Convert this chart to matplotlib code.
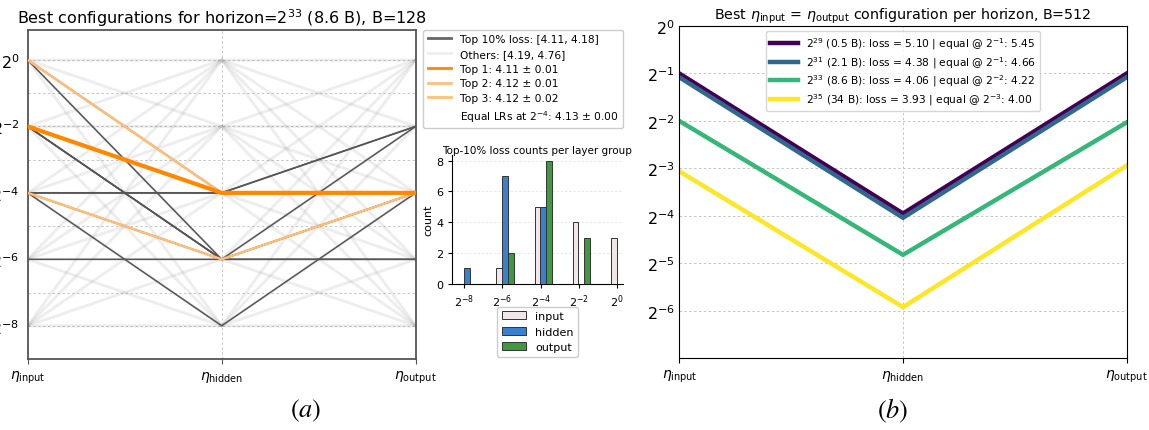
import numpy as np
import matplotlib
matplotlib.use('Agg')
import matplotlib.pyplot as plt
from matplotlib.lines import Line2D
from matplotlib.transforms import Bbox, TransformedBbox
from itertools import product

# ---------------- data ----------------
axis_labels = [r'$\eta_{\mathrm{input}}$', r'$\eta_{\mathrm{hidden}}$', r'$\eta_{\mathrm{output}}$']
lr_grid_exp = [0, -2, -4, -6, -8]          # log2 learning-rate sweep grid (per layer group)

# top-10% configs (log2 of input, hidden, output lr)
top10_configs = [
    (-2, -4, -4), (0, -4, -4), (-4, -6, -4), (-4, -4, -4), (0, -4, -2),
    (-4, -4, -2), (-2, -6, -2), (-2, -6, -4), (-2, -6, -6), (-4, -6, -6),
    (-4, -8, -4), (0, -6, -4), (-6, -6, -4),
]
top1_cfg = (-2, -4, -4)
top2_cfg = (0, -4, -4)
top3_cfg = (-4, -6, -4)

left_legend_labels = [
    'Top 10% loss: [4.11, 4.18]',
    'Others: [4.19, 4.76]',
    'Top 1: 4.11 ± 0.01',
    'Top 2: 4.12 ± 0.01',
    'Top 3: 4.12 ± 0.02',
    r'Equal LRs at $2^{-4}$: 4.13 ± 0.00',
]

# inset: counts per layer group in top-10%
bar_bins = [-8, -6, -4, -2, 0]
bar_tick_labels = [r'$2^{-8}$', r'$2^{-6}$', r'$2^{-4}$', r'$2^{-2}$', r'$2^{0}$']
count_input = [0, 1, 5, 4, 3]
count_hidden = [1, 7, 5, 0, 0]
count_output = [0, 2, 8, 3, 0]

# right panel: best eta_input = eta_output config per horizon (log2 lr)
right_labels = [
    r'$2^{29}$ (0.5 B): loss = 5.10 | equal @ $2^{-1}$: 5.45',
    r'$2^{31}$ (2.1 B): loss = 4.38 | equal @ $2^{-1}$: 4.66',
    r'$2^{33}$ (8.6 B): loss = 4.06 | equal @ $2^{-2}$: 4.22',
    r'$2^{35}$ (34 B): loss = 3.93 | equal @ $2^{-3}$: 4.00',
]
best_h29 = [-1.0, -3.95, -1.0]
best_h31 = [-1.08, -4.04, -1.08]
best_h33 = [-2.0, -4.82, -2.03]
best_h35 = [-3.06, -5.92, -2.94]
right_series = [best_h29, best_h31, best_h33, best_h35]
right_colors = ['#440154', '#31688e', '#35b779', '#fde725']

# ---------------- figure ----------------
W, H = 1149, 431
fig = plt.figure(figsize=(W / 100, H / 100), dpi=100)

def frac(x0, x1, ytop, ybot):
    return [x0 / W, 1 - ybot / H, (x1 - x0) / W, (ybot - ytop) / H]

grid_kw = dict(color='#c4c4c4', lw=0.7, ls=(0, (2.5, 2.5)))

# ----- left panel -----
axL = fig.add_axes(frac(27.7, 415.7, 30.7, 360))
xs = [0, 1, 2]
for cfg in product(lr_grid_exp, repeat=3):
    if cfg in top10_configs:
        continue
    axL.plot(xs, [2.0 ** v for v in cfg], color='#a0a0a0', alpha=0.035, lw=2.0, zorder=2)
for cfg in top10_configs:
    axL.plot(xs, [2.0 ** v for v in cfg], color='#555555', lw=1.1, zorder=3)
axL.plot(xs, [2.0 ** v for v in top3_cfg], color='#ffbd78', lw=1.8, zorder=4)
axL.plot(xs, [2.0 ** v for v in top2_cfg], color='#ffbd78', lw=1.8, zorder=4)
axL.plot(xs, [2.0 ** v for v in top1_cfg], color='#ff8800', lw=3.0, zorder=5)

axL.set_yscale('log', base=2)
axL.set_ylim(2.0 ** -9, 2.0 ** 0.91)
axL.set_xlim(0, 2)
yt = list(range(0, -9, -1))
axL.set_yticks([2.0 ** e for e in yt])
axL.set_yticklabels([(r'$2^{%d}$' % e) if e % 2 == 0 else '' for e in yt], fontsize=11.5)
axL.minorticks_off()
axL.set_xticks(xs)
axL.set_xticklabels(axis_labels, fontsize=10)
axL.tick_params(axis='y', length=0, pad=6)
axL.tick_params(axis='x', length=3.5, color='#555555')
axL.grid(True, **grid_kw)
axL.set_axisbelow(True)
for s in axL.spines.values():
    s.set_color('#555555')
    s.set_linewidth(1.3)
axL.set_title(r'Best configurations for horizon=$2^{33}$ (8.6 B), B=128', fontsize=11.5, pad=5)

handles = [
    Line2D([], [], color='#666666', lw=2),
    Line2D([], [], color='#eeeeee', lw=2),
    Line2D([], [], color='#ff8800', lw=2),
    Line2D([], [], color='#ffc07a', lw=2),
    Line2D([], [], color='#ffc07a', lw=2),
    Line2D([], [], color='none', lw=2),
]
axL.legend(handles, left_legend_labels, loc='upper left', bbox_to_anchor=(1.0 + 7.6 / 388, 1.0),
           borderaxespad=0, fontsize=7.7, handlelength=2.2, labelspacing=0.45,
           framealpha=1, edgecolor='#cccccc')

# ----- inset bar chart -----
axI = fig.add_axes(frac(452.3, 622.7, 155.5, 284.7))
bw = 0.3
xb = np.array(bar_bins, dtype=float)
axI.bar(xb - 0.17, count_input, width=bw, color='#f1e6e8', edgecolor='#333333', lw=0.7, label='input', zorder=3)
axI.bar(xb + 0.13, count_hidden, width=bw, color='#3a80d0', edgecolor='#333333', lw=0.7, label='hidden', zorder=3)
axI.bar(xb + 0.43, count_output, width=bw, color='#3f9a3f', edgecolor='#333333', lw=0.7, label='output', zorder=3)
axI.set_xlim(-8.63, 0.3)
axI.set_ylim(0, 8.4)
axI.set_xticks(bar_bins)
axI.set_xticklabels(bar_tick_labels, fontsize=8)
axI.set_yticks([0, 2, 4, 6, 8])
axI.tick_params(axis='y', labelsize=8, length=3)
axI.tick_params(axis='x', length=3)
axI.set_ylabel('count', fontsize=8, labelpad=2)
axI.grid(True, axis='y', color='#e4e4e4', lw=0.6, ls=(0, (3, 2)))
axI.spines['top'].set_visible(False)
axI.spines['right'].set_visible(False)
tI = axI.set_title('Top-10% loss counts per layer group', fontsize=7.5, pad=0.5)
tI.set_clip_box(TransformedBbox(Bbox([[0, 0], [633 / W, 1]]), fig.transFigure))
tI.set_clip_on(True)
axI.legend(loc='upper center', bbox_to_anchor=(0.5, -0.178), borderaxespad=0, fontsize=8,
           handlelength=2.2, framealpha=1, edgecolor='#cccccc')

# ----- right panel -----
axR = fig.add_axes(frac(679.3, 1126.7, 27, 359.3))
for vals, c, lab in zip(right_series, right_colors, right_labels):
    axR.plot(xs, [2.0 ** v for v in vals], color=c, lw=3.2, label=lab, solid_joinstyle='miter')
axR.set_yscale('log', base=2)
axR.set_ylim(2.0 ** -7, 2.0 ** 0)
axR.set_xlim(0, 2)
ytr = list(range(0, -7, -1))
axR.set_yticks([2.0 ** e for e in ytr])
axR.set_yticklabels([r'$2^{%d}$' % e for e in ytr], fontsize=11.5)
axR.minorticks_off()
axR.set_xticks(xs)
axR.set_xticklabels(axis_labels, fontsize=10)
axR.tick_params(axis='y', length=0, pad=3)
axR.tick_params(axis='x', length=3.5)
axR.grid(True, **grid_kw)
axR.set_axisbelow(True)
axR.set_title(r'Best $\eta_{\mathrm{input}}$ = $\eta_{\mathrm{output}}$ configuration per horizon, B=512',
              fontsize=10.3, pad=5)
axR.legend(loc='upper center', fontsize=7.7, handlelength=2.6, labelspacing=0.25,
           framealpha=0.8, edgecolor='#cccccc')

# ----- subfigure labels -----
fig.text(306 / W, 1 - 411 / H, r'$(a)$', fontsize=19, ha='center', va='center', math_fontfamily='stix')
fig.text(893 / W, 1 - 411 / H, r'$(b)$', fontsize=19, ha='center', va='center', math_fontfamily='stix')

fig.savefig('out.png', dpi=100)
